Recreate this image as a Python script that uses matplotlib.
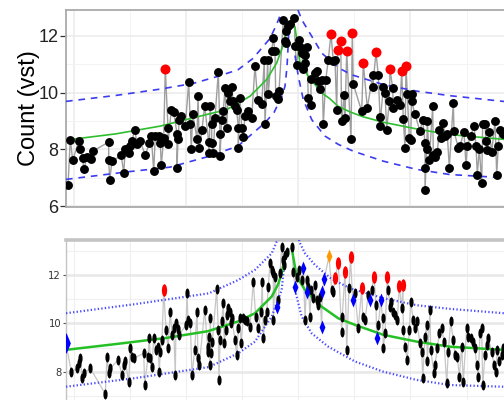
import numpy as np
import matplotlib
matplotlib.use('Agg')
import matplotlib.pyplot as plt
from matplotlib.path import Path
from matplotlib.transforms import Affine2D

plt.rcParams['font.family'] = ['Liberation Sans', 'DejaVu Sans']

# ---- top panel: counts per bin (vst) ----
top_x = [2.0, 4.3, 6.7, 12.7, 14.3, 16.7, 17.7, 21.0, 25.3, 26.7, 42.7, 42.7, 43.7, 46.0, 55.3, 57.7,
         59.3, 62.7, 64.3, 66.0, 68.7, 71.0, 74.3, 79.3, 83.3, 85.3, 87.7, 89.3, 92.7, 94.3, 95.3, 97.7,
         99.3, 102.0, 102.0, 105.3, 107.7, 111.0, 111.0, 112.0, 113.3, 115.3, 119.3, 122.7, 124.3, 125.3,
         126.7, 131.0, 132.0, 133.3, 136.0, 138.7, 142.7, 143.3, 144.0, 145.7, 145.7, 147.3, 149.0, 152.3,
         154.0, 154.0, 155.7, 157.3, 159.0, 160.7, 162.3, 164.0, 165.7, 167.3, 169.0, 170.7, 172.3, 172.3,
         174.0, 175.7, 177.3, 179.0, 181.7, 185.7, 189.0, 191.7, 195.7, 198.3, 199.0, 201.7, 202.3, 205.7,
         207.3, 209.0, 209.7, 211.7, 213.0, 217.3, 219.0, 219.7, 220.0, 221.7, 224.0, 228.3, 229.0, 230.7,
         233.0, 234.0, 235.7, 237.3, 239.0, 239.0, 240.7, 242.3, 245.0, 245.0, 249.0, 250.7, 252.3, 254.0,
         256.3, 257.3, 259.7, 262.3, 265.0, 267.3, 269.0, 270.7, 271.7, 274.7, 275.7, 278.3, 279.0, 280.7,
         285.0, 286.3, 287.3, 295.7, 297.3, 301.3, 306.7, 306.7, 310.0, 312.3, 314.0, 314.0, 317.3, 319.0,
         320.7, 323.3, 324.0, 326.7, 327.3, 330.7, 334.0, 335.7, 337.3, 339.0, 340.0, 341.3, 343.3, 344.7,
         345.7, 345.7, 349.0, 354.0, 356.7, 359.0, 359.0, 359.0, 360.7, 361.3, 363.3, 366.7, 367.3, 369.0,
         371.3, 373.3, 374.7, 377.3, 379.0, 381.3, 383.3, 387.3, 388.0, 392.3, 394.0, 398.0, 400.0, 401.3,
         404.7, 408.0, 410.0, 411.3, 413.3, 415.7, 416.7, 419.0, 420.0, 421.3, 423.3, 425.7, 429.0, 430.7,
         432.3, 434.0, 436.7]
top_y = [6.74, 8.35, 7.62, 8.29, 8.02, 7.71, 7.30, 7.72, 7.68, 7.94, 8.26, 7.62, 6.92, 7.59, 7.79, 7.18,
         8.00, 7.86, 8.14, 8.29, 8.70, 8.21, 8.29, 7.79, 8.24, 8.49, 7.24, 8.47, 8.47, 8.24, 7.44, 8.41,
         10.84, 8.76, 8.21, 9.40, 9.31, 8.56, 7.36, 8.38, 9.05, 9.17, 8.82, 10.36, 8.88, 8.00,
         9.26, 8.38, 9.89, 8.06, 8.70, 9.54, 8.26, 7.88, 9.52, 8.88, 8.24, 7.88, 9.11, 10.71,
         8.53, 7.77, 9.05, 9.34, 10.16, 8.76, 9.99, 9.69, 10.19, 9.69, 9.52, 9.40, 8.76, 8.06,
         9.81, 8.76, 8.45, 9.17, 9.34, 9.11, 10.95, 9.73, 9.61, 11.13, 8.88, 11.13, 9.96, 11.45,
         11.92, 11.45, 9.89, 9.78, 10.05, 12.56, 11.80, 11.74, 12.15, 12.35, 12.42, 12.62, 11.63, 10.98,
         11.84, 11.60, 11.39, 10.81, 11.33, 11.04, 11.60, 9.81, 9.58, 10.46, 10.69, 10.75, 10.40, 10.11,
         10.43, 8.88, 10.43, 11.16, 12.07, 11.10, 11.13, 9.38, 11.51, 11.80, 8.99, 9.93, 9.11, 11.45,
         8.36, 12.09, 10.30, 9.34, 11.04, 9.46, 10.60, 10.20, 11.41, 10.60, 9.15, 8.84, 10.20, 9.99,
         8.70, 9.69, 10.81, 10.16, 9.46, 9.75, 9.58, 10.75, 9.08, 8.06, 10.95, 9.96, 8.41, 8.35,
         9.96, 9.69, 9.23, 8.64, 9.05, 8.24, 7.36, 6.56, 8.00, 8.99, 7.62, 9.52, 7.79, 7.74,
         7.91, 8.70, 8.41, 8.94, 8.47, 8.53, 7.36, 9.64, 8.64, 8.06, 8.14, 8.61, 7.44, 8.12,
         8.49, 8.82, 8.14, 7.12, 8.02, 6.83, 8.91, 8.88, 8.29, 7.97, 8.61, 7.91, 8.99, 7.12,
         8.14, 8.70, 8.53]
top_red_x = [99.3, 265.0, 271.7, 274.7, 280.7, 286.3, 297.3, 310.0, 324.0, 335.7, 340.0]

top_fit_left_x = [4, 50, 94, 127, 160.7, 184, 200.7, 210.7, 217.3, 220]
top_fit_left_y = [8.35, 8.55, 8.82, 9.11, 9.40, 9.87, 10.46, 11.04, 11.68, 12.09]
top_fit_right_x = [229, 234, 242.3, 255.7, 264, 272, 284, 297, 317, 331, 351, 364, 384, 397, 437, 470]
top_fit_right_y = [12.30, 11.04, 10.57, 9.99, 9.78, 9.52, 9.32, 9.15, 8.96, 8.86, 8.72, 8.64, 8.53, 8.48, 8.36, 8.30]
top_hi_left_x = [0, 50, 94, 127, 150, 172, 187, 204, 210.7, 215.7]
top_hi_left_y = [9.69, 9.90, 10.12, 10.32, 10.55, 10.80, 11.20, 11.90, 12.40, 12.85]
top_hi_right_x = [232, 235.7, 245.7, 255.7, 272.3, 286, 317.3, 350.7, 384, 437.3, 470]
top_hi_right_y = [12.90, 12.56, 11.98, 11.39, 10.87, 10.62, 10.28, 10.05, 9.89, 9.69, 9.60]
top_lo_left_x = [0, 62.7, 104, 142, 172, 199, 208, 215.7, 219, 221, 222.3, 223]
top_lo_left_y = [6.95, 7.22, 7.38, 7.75, 8.12, 8.94, 9.30, 9.85, 10.22, 10.90, 11.74, 12.50]
top_lo_right_x = [229, 232.3, 237.3, 245.7, 259, 272.3, 287.3, 317.3, 350.7, 384, 437.3, 470]
top_lo_right_y = [11.30, 10.57, 9.75, 9.05, 8.47, 8.18, 7.94, 7.59, 7.30, 7.12, 7.01, 6.95]

# ---- bottom panel ----
bot_x = [0.0, 5.3, 11.0, 12.7, 14.3, 16.0, 17.7, 24.3, 39.3, 41.0, 42.7, 44.3, 52.0, 56.0, 57.7, 59.3,
         62.7, 64.3, 66.0, 67.7, 77.7, 78.7, 82.0, 83.3, 84.3, 86.0, 87.7, 90.0, 92.0, 93.3, 94.3, 96.0,
         97.7, 100.0, 102.0, 104.3, 106.0, 107.7, 109.3, 110.0, 112.0, 113.3, 120.0, 121.0, 122.0, 124.3,
         126.0, 128.7, 131.0, 132.0, 133.3, 138.7, 141.7, 142.0, 142.7, 144.0, 144.3, 145.0, 146.3, 150.7,
         152.3, 153.0, 154.0, 155.7, 157.3, 158.3, 159.7, 160.7, 162.3, 164.0, 165.0, 165.7, 169.0, 170.7,
         172.3, 174.0, 175.0, 177.3, 179.0, 180.7, 184.0, 187.3, 189.7, 192.3, 195.0, 196.3, 197.3, 199.0,
         200.7, 202.3, 204.0, 205.7, 207.3, 207.3, 209.0, 210.7, 212.3, 214.0, 215.7, 217.3, 218.3, 219.0,
         220.7, 226.3, 227.3, 229.0, 230.7, 233.0, 235.7, 237.3, 239.0, 240.7, 241.0, 242.3, 244.0, 245.0,
         247.3, 249.0, 250.7, 252.3, 254.0, 255.7, 256.3, 258.3, 263.0, 265.7, 267.3, 269.0, 272.3, 275.7,
         276.3, 279.0, 280.7, 283.0, 284.5, 286.7, 289.0, 292.3, 295.7, 296.7, 299.0, 302.3, 304.0, 305.7,
         308.0, 310.0, 310.7, 312.3, 314.7, 316.7, 317.3, 319.0, 321.3, 322.3, 324.0, 324.7, 327.3, 329.0,
         331.3, 333.3, 335.7, 337.0, 337.3, 339.0, 341.3, 343.3, 344.7, 347.3, 349.0, 350.7, 354.0, 355.7,
         356.7, 359.0, 360.7, 361.3, 364.0, 364.7, 368.0, 369.0, 371.3, 373.3, 375.7, 378.0, 380.7, 382.3,
         384.7, 387.3, 389.0, 391.3, 393.3, 395.7, 397.3, 400.7, 402.3, 404.7, 406.7, 409.0, 410.7, 412.3,
         414.0, 415.7, 416.7, 419.0, 420.7, 422.3, 425.7, 428.0, 430.0, 431.3, 433.3, 435.7, 437.3]
bot_y = [9.18, 8.01, 8.15, 8.36, 8.56, 7.74, 7.95, 8.15, 7.09, 8.63, 7.95, 8.15, 8.49, 7.88, 8.29, 8.43,
         7.60, 8.98, 8.63, 8.56, 8.77, 7.46, 8.63, 9.39, 8.56, 8.22, 9.39, 8.91, 9.04, 8.01, 8.84, 9.32,
         11.38, 9.73, 8.98, 10.49, 9.53, 9.80, 7.88, 10.01, 9.76, 9.53, 9.94, 11.24, 10.14, 10.03,
         7.88, 8.91, 10.49, 8.56, 8.29, 10.56, 9.04, 8.84, 9.46, 8.29, 10.21, 8.77, 9.25, 11.41,
         9.73, 7.67, 9.32, 10.08, 10.83, 9.18, 9.73, 10.35, 10.63, 10.49, 10.01, 10.21, 9.32, 8.70,
         9.80, 10.21, 9.18, 10.21, 10.14, 10.08, 9.87, 11.72, 10.28, 9.80, 10.49, 11.72, 9.39, 10.14,
         10.49, 11.52, 12.48, 12.21, 12.07, 10.14, 11.93, 10.69, 10.97, 12.07, 13.17, 12.62, 12.41, 12.82,
         12.96, 13.17, 12.14, 11.52, 11.93, 12.21, 11.79, 12.30, 10.14, 11.79, 11.31, 11.52, 10.28, 11.38,
         11.04, 11.59, 10.97, 10.76, 11.11, 9.87, 11.31, 11.85, 12.76, 11.38, 11.31, 11.86, 12.48, 9.66,
         10.28, 12.14, 8.91, 11.45, 12.72, 10.95, 11.24, 9.80, 11.45, 10.28, 10.14, 11.18, 10.97, 11.38,
         11.93, 10.76, 9.40, 9.94, 10.95, 10.21, 8.98, 9.59, 11.90, 11.38, 10.69, 10.90, 10.49, 10.35,
         10.14, 11.54, 10.63, 11.59, 9.73, 9.04, 8.49, 9.73, 10.90, 10.14, 9.80, 10.08, 9.18, 8.84,
         7.74, 9.46, 9.94, 8.43, 10.56, 8.91, 7.95, 8.29, 8.98, 9.59, 9.80, 9.25, 7.53, 8.84,
         10.08, 9.32, 8.70, 8.63, 7.81, 9.04, 7.60, 9.80, 9.46, 9.39, 9.25, 8.98, 8.29, 7.81,
         9.59, 9.80, 7.46, 8.70, 9.11, 9.39, 8.84, 8.29, 8.01, 8.91, 8.43, 8.70, 8.98]
bot_red_x = [97.7, 269.0, 272.3, 279.0, 284.5, 295.7, 308.0, 321.3, 333.3, 337.0]
bot_orange_x = [263.0]
bot_blue_x = [210.7, 229.0, 237.3, 241.0, 255.7, 256.3, 258.3, 286.7, 304.0, 310.7, 314.7]
bot_anchor_x = [0.0]

bot_fit_left_x = [0, 50, 100, 142, 172, 189, 205.7, 212, 215.7, 218.3]
bot_fit_left_y = [8.91, 9.15, 9.40, 9.68, 10.08, 10.42, 11.11, 11.60, 12.07, 12.62]
bot_fit_right_x = [226.3, 230.7, 239, 255.7, 272.3, 289, 317.3, 350.7, 384, 437.3, 470]
bot_fit_right_y = [12.96, 11.93, 11.38, 10.69, 10.21, 9.94, 9.53, 9.25, 9.04, 8.91, 8.85]
bot_hi_left_x = [0, 70, 142.7, 172.3, 189, 205.7, 210.7, 212.5]
bot_hi_left_y = [10.42, 10.80, 11.24, 11.79, 12.21, 12.89, 13.37, 13.45]
bot_hi_right_x = [233, 234, 239, 249, 265, 284, 317.3, 350.7, 384, 438, 470]
bot_hi_right_y = [13.45, 13.31, 12.89, 12.41, 11.85, 11.45, 11.04, 10.75, 10.60, 10.42, 10.35]
bot_lo_left_x = [0, 70, 142.7, 172.3, 189, 205.7, 215.7, 219]
bot_lo_left_y = [7.39, 7.75, 8.20, 8.77, 9.25, 10.28, 11.38, 12.76]
bot_lo_right_x = [229, 235.7, 245.7, 262.3, 289, 317.3, 350.7, 384, 437.3, 470]
bot_lo_right_y = [11.38, 10.28, 9.59, 9.04, 8.43, 8.01, 7.67, 7.46, 7.39, 7.36]

fig = plt.figure(figsize=(5.04, 4.0), dpi=100)
ax1 = fig.add_axes([66/504, 1 - 207/400, 464/504, 197/400])
ax2 = fig.add_axes([66/504, 1 - 410/400, 464/504, 170/400])

grid_major = np.arange(7.5, 470, 112.3)
grid_minor = grid_major[:-1] + 56.15

for ax in (ax1, ax2):
    ax.set_xlim(0, 464)
    ax.set_xticks(grid_major)
    ax.set_xticks(grid_minor, minor=True)
    ax.tick_params(axis='x', which='both', length=0, labelbottom=False)
    ax.set_axisbelow(True)

# top panel
ax1.set_ylim(5.98, 12.9)
ax1.set_yticks([6, 8, 10, 12])
ax1.set_yticks([7, 9, 11], minor=True)
ax1.grid(which='major', color='#EBEBEB', lw=1.1)
ax1.grid(which='minor', color='#F3F3F3', lw=0.7)
ax1.tick_params(axis='y', which='major', length=4, width=0.9, color='#333333',
                labelsize=13, labelcolor='#222222', pad=1.5)
ax1.tick_params(axis='y', which='minor', length=0)
for s in ax1.spines.values():
    s.set_color('#AAAAAA')
    s.set_linewidth(1.3)
ax1.set_ylabel('Count (vst)', fontsize=17)
ax1.yaxis.set_label_coords(-0.056, 0.5)

tx = np.array(top_x)
ty = np.array(top_y)
red = np.isin(tx, top_red_x)
ax1.plot(tx, ty, color='#9E9E9E', lw=1.0, zorder=2)
for lx, ly in [(top_hi_left_x, top_hi_left_y), (top_hi_right_x, top_hi_right_y),
               (top_lo_left_x, top_lo_left_y), (top_lo_right_x, top_lo_right_y)]:
    ax1.plot(lx, ly, color='#3C3CF0', lw=1.2, ls=(0, (4, 3.5)), zorder=3)
ax1.plot(top_fit_left_x, top_fit_left_y, color='#2EBE2E', lw=1.2, zorder=3)
ax1.plot(top_fit_right_x, top_fit_right_y, color='#2EBE2E', lw=1.2, zorder=3)
ax1.plot(tx[~red], ty[~red], ls='none', marker='o', ms=6.4, color='black', mew=0, zorder=4)
ax1.plot(tx[red], ty[red], ls='none', marker='o', ms=7.2, color='#FF0000', mew=0, zorder=4)

# bottom panel
ell = Path.unit_circle().transformed(Affine2D().scale(0.42, 1.0))
dia = Path([(0, 1), (0.42, 0), (0, -1), (-0.42, 0), (0, 1)],
           [Path.MOVETO, Path.LINETO, Path.LINETO, Path.LINETO, Path.CLOSEPOLY])

ax2.set_ylim(6.43, 13.44)
ax2.set_yticks([8, 10, 12])
ax2.set_yticks([7, 9, 11, 13], minor=True)
ax2.grid(which='major', axis='y', color='#E8E8E8', lw=1.8)
ax2.grid(which='minor', axis='y', color='#F1F1F1', lw=0.9)
ax2.grid(which='both', axis='x', color='#EFEFEF', lw=0.8)
ax2.tick_params(axis='y', which='major', length=2.5, width=0.8, color='#555555',
                labelsize=8, labelcolor='#333333', pad=1)
ax2.tick_params(axis='y', which='minor', length=0)
for lab in ax2.get_yticklabels():
    lab.set_family(['Liberation Sans Narrow', 'DejaVu Sans'])
    lab.set_stretch('condensed')
for s in ax2.spines.values():
    s.set_color('#C4C4C4')
    s.set_linewidth(1.0)
ax2.spines['top'].set_linewidth(2.6)

bx = np.array(bot_x)
by = np.array(bot_y)
b_red = np.isin(bx, bot_red_x)
b_or = np.isin(bx, bot_orange_x)
b_blue = np.isin(bx, bot_blue_x)
b_anchor = np.isin(bx, bot_anchor_x)
b_black = ~(b_red | b_or | b_blue | b_anchor)
ax2.plot(bx, by, color='#C6C6C6', lw=0.9, zorder=2)
for lx, ly in [(bot_hi_left_x, bot_hi_left_y), (bot_hi_right_x, bot_hi_right_y),
               (bot_lo_left_x, bot_lo_left_y), (bot_lo_right_x, bot_lo_right_y)]:
    ax2.plot(lx, ly, color='#4B4BFF', lw=1.6, ls=(0, (0.6, 1.0)), zorder=3)
ax2.plot(bot_fit_left_x, bot_fit_left_y, color='#25C025', lw=1.8, zorder=3)
ax2.plot(bot_fit_right_x, bot_fit_right_y, color='#25C025', lw=1.8, zorder=3)
ax2.plot(bx[b_black], by[b_black], ls='none', marker=ell, ms=7.2, color='black', mew=0, zorder=4)
ax2.plot(bx[b_red], by[b_red], ls='none', marker=ell, ms=9, color='#FF0000', mew=0, zorder=4)
ax2.plot(bx[b_or], by[b_or], ls='none', marker=dia, ms=10, color='#FF9900', mew=0, zorder=4)
ax2.plot(bx[b_blue], by[b_blue], ls='none', marker=dia, ms=10, color='#0000FF', mew=0, zorder=4)
ax2.plot(bx[b_anchor], by[b_anchor], ls='none', marker=dia, ms=15, color='#0000FF', mew=0, zorder=4)

fig.savefig('out.png', dpi=100)
